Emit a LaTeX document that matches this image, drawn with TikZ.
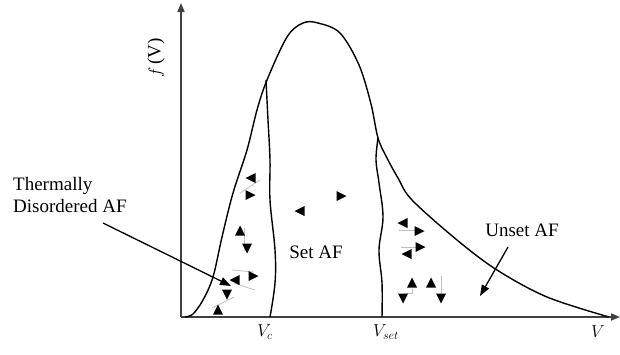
\documentclass[tikz,border=0pt]{standalone}
\usepackage{fontspec}
\setmainfont{Liberation Serif}
\usetikzlibrary{arrows.meta}
\tikzset{
  curve/.style={line width=1.4pt, black},
  axis/.style={line width=1.6pt, black!75},
  pointer/.style={line width=1.3pt, -{Triangle[length=11pt,width=8pt]}},
  faint/.style={line width=0.8pt, black!25},
  lbl/.style={font=\fontsize{19}{22}\selectfont, inner sep=0pt},
  vlbl/.style={font=\fontsize{17}{20}\selectfont, inner sep=0pt},
  spin/.pic={\fill[black] (5.5,0) -- (-4.5,5) -- (-4.5,-5) -- cycle;}
}
\begin{document}
\begin{tikzpicture}[x=1pt,y=-1pt]
\useasboundingbox (0,0) rectangle (620,354);
% axes
\coordinate (O) at (181,317);
\coordinate (ytop) at (181,3);
\coordinate (xend) at (620,317);
\draw[axis,-{Triangle[length=9pt,width=7pt]}] (O) -- (ytop);
\draw[axis,-{Triangle[length=9pt,width=7pt]}] (O) -- (xend);
% main curve
\draw[curve] plot[smooth, tension=0.55] coordinates {(185,317) (193,314) (203,300) (213,277) (222,237) (233,193) (247,150) (257,110) (267,80) (287,37) (303,23) (318,23) (340,33) (359,65) (371,104) (378,138) (387,158) (398,178) (412,200) (457,240) (497,270) (547,297) (609,317)};
% Vc boundary
\draw[curve] plot[smooth, tension=0.6] coordinates {(266,80) (268,120) (270,160) (270,200) (275,250) (275,283) (270,317)};
% Vset boundary
\draw[curve] plot[smooth, tension=0.6] coordinates {(378,138) (376,160) (379,183) (383,217) (379,250) (382,283) (382,317)};
% labels
\node[lbl, rotate=90] (fv) at (156,58) {$f$\,(V)};
\node[lbl, align=left, anchor=north west] (td) at (13,177) {Thermally\\Disordered AF};
\node[lbl] (set) at (316,252) {Set AF};
\node[lbl] (unset) at (522,230) {Unset AF};
\node[vlbl] (vc) at (265,332) {$V_c$};
\node[vlbl] (vset) at (386,332) {$V_{set}$};
\node[vlbl] (v) at (598,332) {$V$};
% pointers
\coordinate (tdstart) at (103,223);
\coordinate (tdend) at (231,286);
\draw[pointer] (tdstart) -- (tdend);
\coordinate (ustart) at (508,247);
\coordinate (uend) at (480,296);
\draw[pointer] (ustart) -- (uend);
% faint pairing lines
\draw[faint] (240,193) -- (260,180);
\draw[faint] (244,228) -- (244,251);
\draw[faint] (232,270) -- (254,272);
\draw[faint] (234,283) -- (255,290);
\draw[faint] (212,308) -- (234,297);
\draw[faint] (399,230) -- (421,230);
\draw[faint] (401,247) -- (416,247);
\draw[faint] (412,289) -- (412,293) -- (406,293);
\draw[faint] (441,276) -- (441,294);
% spins: thermally disordered
\pic[rotate=180] at (251,178) {spin};
\pic at (250,195) {spin};
\pic[rotate=90] at (240,231) {spin};
\pic[rotate=-90] at (247,248) {spin};
\pic[rotate=180] at (235,280) {spin};
\pic at (253,276) {spin};
\pic[rotate=-90] at (227,294) {spin};
\pic[rotate=90] at (218,310) {spin};
% spins: set AF
\pic[rotate=180] at (300,211) {spin};
\pic at (341,196) {spin};
% spins: unset AF
\pic[rotate=180] at (403,223) {spin};
\pic at (419,231) {spin};
\pic at (420,247) {spin};
\pic[rotate=180] at (407,254) {spin};
\pic[rotate=90] at (412,283) {spin};
\pic[rotate=-90] at (403,298) {spin};
\pic[rotate=90] at (431,283) {spin};
\pic[rotate=-90] at (441,298) {spin};
\end{tikzpicture}
\end{document}
